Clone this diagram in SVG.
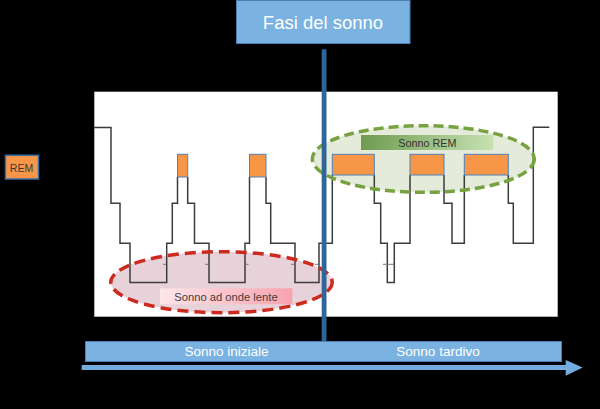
<svg xmlns="http://www.w3.org/2000/svg" width="600" height="409" viewBox="0 0 600 409">
<defs>
<linearGradient id="gPink" x1="0" y1="0" x2="1" y2="0">
<stop offset="0" stop-color="#fde6e9"/>
<stop offset="1" stop-color="#f7a3ae"/>
</linearGradient>
<linearGradient id="gGreen" x1="0" y1="0" x2="1" y2="0">
<stop offset="0" stop-color="#6f9b52"/>
<stop offset="1" stop-color="#c6e2b1"/>
</linearGradient>
<style>
.t{font-family:"Liberation Sans",Arial,sans-serif}
.rem{fill:#f79646;stroke:#4f81bd;stroke-width:1}
.hyp{fill:none;stroke:#3c3c3c;stroke-width:1.5}
.tick{stroke:#777;stroke-width:1}
.bluebox{fill:#7ab2e1;stroke:#4a7db5;stroke-width:1}
</style>
</defs>
<rect x="0" y="0" width="600" height="409" fill="#000"/>

<g id="panel">
<rect x="94.3" y="91.7" width="463.4" height="225" fill="#fff"/>
</g>

<g id="ellipse-fills">
<ellipse cx="221.5" cy="282.2" rx="110.7" ry="30.5" fill="#e8d2d9"/>
<ellipse cx="423.3" cy="159" rx="111" ry="33.3" fill="#e4ebdb"/>
</g>

<g id="hypnogram">
<path class="hyp" d="M94,127.5 H111 V203.3 H120 V243.3 H130 V282.6 H166.7 V243.3 H172.3 V203.3 H177.5 V177 M187.7,177 V203.3 H194.5 V243.3 H209 V282.6 H245 V243.3 H249.5 V177 M266,177 V203.3 H270.7 V243.3 H295 V282.6 H319 V243.3 H332.3 V175 M374.3,175 V203.3 H380.7 V243.3 H387.3 V282.6 H394.3 V243.3 H410 V175 M444,175 V203.3 H452 V243.3 H464.3 V175 M508.3,175 V203.3 H513.3 V243.3 H533.3 V127.3 H549.3"/>
<path class="tick" d="M128.5,264.3 H131.5 M163,264.3 H166 M205,264.3 H208 M245.5,264.3 H248.5 M291,264.3 H294 M315,264.3 H318 M383,264.3 H394"/>
<rect class="rem" x="177.5" y="154.3" width="10.2" height="22.7"/>
<rect class="rem" x="249.5" y="154.3" width="16.5" height="22.7"/>
<rect class="rem" x="332.3" y="154.3" width="42" height="20.7"/>
<rect class="rem" x="410" y="154.3" width="34" height="20.7"/>
<rect class="rem" x="464.3" y="154.3" width="44" height="20.7"/>
</g>

<g id="slow-wave">
<ellipse cx="221.5" cy="282.2" rx="110.7" ry="30.5" fill="none" stroke="#cc2a1e" stroke-width="3.5" stroke-dasharray="11 6"/>
<rect x="160" y="288.3" width="132.3" height="16" fill="url(#gPink)"/>
<text class="t" x="226" y="300.5" font-size="11.2" fill="#404040" text-anchor="middle">Sonno ad onde lente</text>
</g>

<g id="rem-sleep">
<ellipse cx="423.3" cy="159" rx="111" ry="33.3" fill="none" stroke="#77a23f" stroke-width="3.5" stroke-dasharray="10 5"/>
<rect x="361" y="135" width="132.3" height="15" fill="url(#gGreen)"/>
<text class="t" x="427.3" y="146.5" font-size="10.8" fill="#333" text-anchor="middle">Sonno REM</text>
</g>

<g id="legend-rem">
<rect x="5.5" y="155.3" width="33" height="23.7" fill="#f79646" stroke="#3b6ea5" stroke-width="1.5"/>
<text class="t" x="21.5" y="171.5" font-size="10.5" fill="#3a3a3a" text-anchor="middle">REM</text>
</g>

<g id="connectors">
<rect x="321.7" y="49.3" width="4.8" height="292" fill="#2f6698"/>
<polygon points="81.7,365 565.7,365 565.7,360 582.7,367.5 565.7,375.7 565.7,370 81.7,370" fill="#74ace0"/>
</g>

<g id="title">
<rect x="236.5" y="0.5" width="173.5" height="43" fill="#7ab2e1" stroke="#4a7db5" stroke-width="1"/>
<text class="t" x="323" y="28.5" font-size="18.5" fill="#fff" text-anchor="middle">Fasi del sonno</text>
</g>

<g id="timeline">
<rect class="bluebox" x="85.5" y="341.5" width="476" height="20"/>
<text class="t" x="226.5" y="356" font-size="13.5" fill="#fff" text-anchor="middle">Sonno iniziale</text>
<text class="t" x="438" y="356" font-size="13.5" fill="#fff" text-anchor="middle">Sonno tardivo</text>
</g>
</svg>
